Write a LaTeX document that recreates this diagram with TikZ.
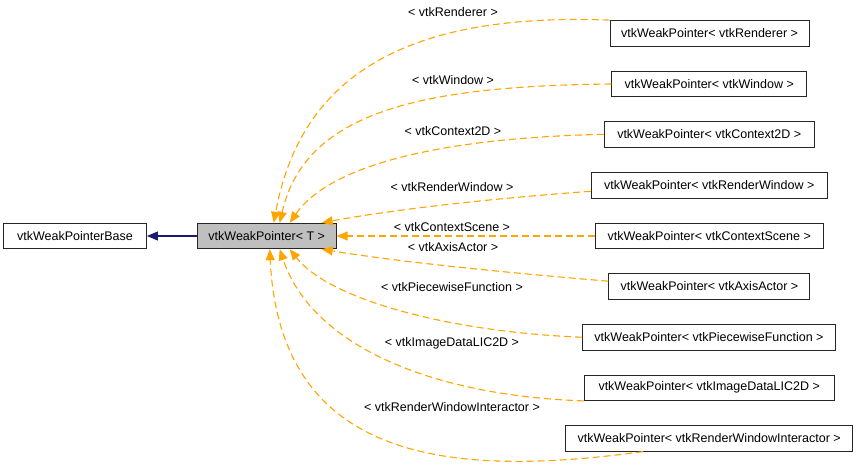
\documentclass[tikz,border=0pt]{standalone}
\usepackage{fontspec}
\setmainfont{Liberation Sans}
\usetikzlibrary{arrows.meta}
\definecolor{edgeorange}{HTML}{FFA500}
\definecolor{edgenavy}{HTML}{191970}
\definecolor{nodegray}{HTML}{BFBFBF}

\begin{document}
\begin{tikzpicture}[x=1pt, y=-1pt,
  cls/.style = {draw=black!85, line width=0.9pt, fill=white, minimum height=25.5pt,
                inner xsep=0pt, font=\fontsize{12.5}{14}\selectfont},
  lbl/.style = {inner sep=0pt, font=\fontsize{12.5}{14}\selectfont},
  tmpl/.style = {draw=edgeorange, line width=1.1pt, dash pattern=on 7pt off 4pt,
                 -{Triangle[length=11pt,width=9pt,fill=edgeorange]}},
  inh/.style = {draw=edgenavy, line width=1.1pt,
                -{Triangle[length=11pt,width=9pt,fill=edgenavy]}}]
\useasboundingbox (0,0) rectangle (859,467);

\node[cls, minimum width=143pt] (base) at (75,236) {vtkWeakPointerBase};
\node[cls, minimum width=139pt, fill=nodegray] (T) at (266.7,236) {vtkWeakPointer< T >};

\node[cls, minimum width=199pt] (rend) at (709.5,33.3) {vtkWeakPointer< vtkRenderer >};
\node[cls, minimum width=195pt] (win) at (709.2,84) {vtkWeakPointer< vtkWindow >};
\node[cls, minimum width=210pt] (ctx) at (709.2,134.3) {vtkWeakPointer< vtkContext2D >};
\node[cls, minimum width=236pt] (rwin) at (709.2,185.3) {vtkWeakPointer< vtkRenderWindow >};
\node[cls, minimum width=228pt] (scene) at (709.2,236) {vtkWeakPointer< vtkContextScene >};
\node[cls, minimum width=201pt] (axis) at (709.4,286.2) {vtkWeakPointer< vtkAxisActor >};
\node[cls, minimum width=253pt] (pw) at (709,337.2) {vtkWeakPointer< vtkPiecewiseFunction >};
\node[cls, minimum width=250pt] (img) at (709.2,387.7) {vtkWeakPointer< vtkImageDataLIC2D >};
\node[cls, minimum width=287pt] (rwi) at (709.2,438.4) {vtkWeakPointer< vtkRenderWindowInteractor >};

\node[lbl] (lrend) at (453,12) {< vtkRenderer >};
\node[lbl] (lwin) at (453,80.5) {< vtkWindow >};
\node[lbl] (lctx) at (453,131.5) {< vtkContext2D >};
\node[lbl] (lrwin) at (452,187.5) {< vtkRenderWindow >};
\node[lbl] (lscene) at (452,227.5) {< vtkContextScene >};
\node[lbl] (laxis) at (453,247.3) {< vtkAxisActor >};
\node[lbl] (lpw) at (452,287.3) {< vtkPiecewiseFunction >};
\node[lbl] (limg) at (452,343.3) {< vtkImageDataLIC2D >};
\node[lbl] (lrwi) at (452,407.3) {< vtkRenderWindowInteractor >};

\draw[inh] (T) -- (base);

\draw[tmpl] (rend.north west) .. controls (400,12) and (300,80) .. ([xshift=7pt]T.north);
\draw[tmpl] (win.west) .. controls (420,86) and (305,112) .. ([xshift=13pt]T.north);
\draw[tmpl] (ctx.west) .. controls (440,138) and (330,165) .. ([xshift=23pt]T.north);
\draw[tmpl] ([yshift=-6pt]rwin.west) .. controls (470,200) and (380,212) .. ([xshift=55pt]T.north);
\draw[tmpl] (scene) -- (T);
\draw[tmpl] ([yshift=5pt]axis.west) .. controls (500,272) and (400,262) .. ([xshift=55pt]T.south);
\draw[tmpl] (pw.west) .. controls (450,332) and (330,300) .. ([xshift=23pt]T.south);
\draw[tmpl] (img.south west) .. controls (420,395) and (310,340) .. ([xshift=13pt]T.south);
\draw[tmpl] ([xshift=-66pt]rwi.south) .. controls (450,478) and (280,462) .. ([xshift=3pt]T.south);
\end{tikzpicture}
\end{document}
